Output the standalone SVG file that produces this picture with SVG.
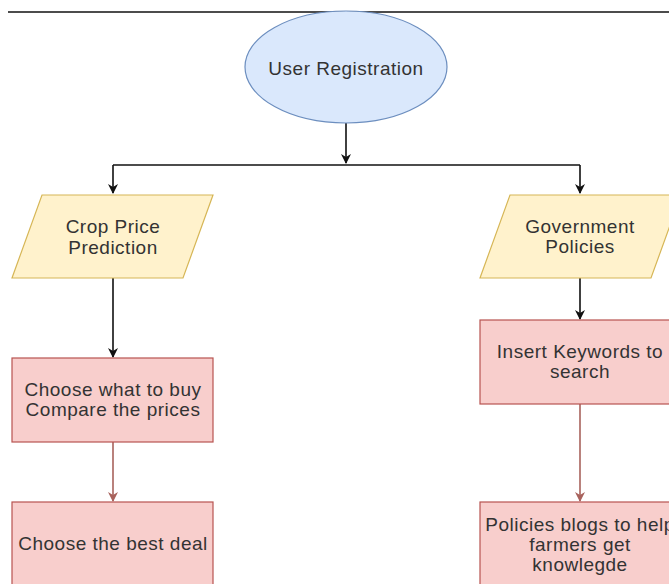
<svg xmlns="http://www.w3.org/2000/svg" width="669" height="584" viewBox="0 0 669 584">
<defs>
<style>
text{font-family:"Liberation Sans",Arial,sans-serif;font-size:19px;fill:#333;text-anchor:middle;letter-spacing:0.5px}
.ell{fill:#dae8fc;stroke:#6c8ebf;stroke-width:1.2}
.par{fill:#fff2cc;stroke:#d6b656;stroke-width:1.2}
.box{fill:#f8cecc;stroke:#b85450;stroke-width:1.2}
.blk{fill:none;stroke:#111;stroke-width:1.6}
.brn{fill:none;stroke:#a8625c;stroke-width:1.6}
</style>
<marker id="ab" markerWidth="10" markerHeight="10" refX="9" refY="5" orient="auto" markerUnits="userSpaceOnUse">
<path d="M0,0 L10,5 L0,10 L3,5 Z" fill="#111"/>
</marker>
<marker id="ar" markerWidth="10" markerHeight="10" refX="9" refY="5" orient="auto" markerUnits="userSpaceOnUse">
<path d="M0,0 L10,5 L0,10 L3,5 Z" fill="#a8625c"/>
</marker>
</defs>
<rect width="669" height="584" fill="#fff"/>
<line x1="8" y1="12" x2="669" y2="12" stroke="#111" stroke-width="1.5"/>
<g id="connectors">
<path class="blk" d="M346,123 V163" marker-end="url(#ab)"/>
<path class="blk" d="M113,165 H580"/>
<path class="blk" d="M113,165 V193" marker-end="url(#ab)"/>
<path class="blk" d="M580,165 V193" marker-end="url(#ab)"/>
<path class="blk" d="M113,278 V357" marker-end="url(#ab)"/>
<path class="blk" d="M580,278 V319" marker-end="url(#ab)"/>
<path class="brn" d="M113,442 V501" marker-end="url(#ar)"/>
<path class="brn" d="M580,404 V501" marker-end="url(#ar)"/>
</g>
<g id="user-registration">
<ellipse class="ell" cx="346" cy="67" rx="101" ry="56"/>
<text x="346" y="75">User Registration</text>
</g>
<g id="crop-price-prediction">
<polygon class="par" points="42,195 213,195 183,278 12,278"/>
<text x="113" y="233">Crop Price</text>
<text x="113" y="254">Prediction</text>
</g>
<g id="government-policies">
<polygon class="par" points="510,195 681,195 651,278 480,278"/>
<text x="580" y="233">Government</text>
<text x="580" y="253">Policies</text>
</g>
<g id="choose-what-to-buy">
<rect class="box" x="12" y="358" width="201" height="84"/>
<text x="113" y="396">Choose what to buy</text>
<text x="113" y="416">Compare the prices</text>
</g>
<g id="choose-best-deal">
<rect class="box" x="12" y="502" width="201" height="100"/>
<text x="113" y="550">Choose the best deal</text>
</g>
<g id="insert-keywords">
<rect class="box" x="480" y="320" width="201" height="84"/>
<text x="580" y="358">Insert Keywords to</text>
<text x="580" y="378">search</text>
</g>
<g id="policies-blogs">
<rect class="box" x="480" y="502" width="201" height="100"/>
<text x="580" y="531">Policies blogs to help</text>
<text x="580" y="551">farmers get</text>
<text x="580" y="571">knowlegde</text>
</g>
</svg>
